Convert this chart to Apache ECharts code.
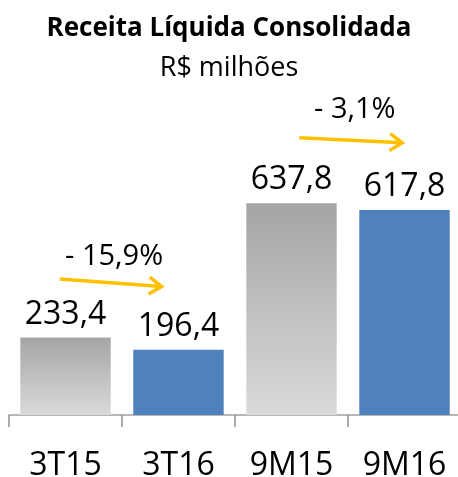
<!DOCTYPE html>
<html>
<head>
<meta charset="utf-8">
<script src="https://cdn.jsdelivr.net/npm/echarts@6/dist/echarts.min.js"></script>
<style>
  html, body { margin: 0; padding: 0; background: #fff; }
  #chart { width: 458px; height: 477px; }
</style>
</head>
<body>
<div id="chart"></div>
<script>
const categories = ['3T15', '3T16', '9M15', '9M16'];
const values = [233.4, 196.4, 637.8, 617.8];
const isCurrent = [false, true, false, true];

// variação: início e fim da seta, posição do texto (em unidades dos eixos)
const arrows = [
    { from: [-0.05, 410], to: [0.85, 387], text: '- 15,9%', textAt: [0.43, 476] },
    { from: [2.07, 835], to: [2.98, 820], text: '- 3,1%', textAt: [2.56, 918] }
];

const font = '"Open Sans", "Noto Sans", sans-serif';
const orange = '#FFC000';

const grayGradient = new echarts.graphic.LinearGradient(0, 0, 0, 1, [
    { offset: 0, color: '#a5a5a5' },
    { offset: 1, color: '#dadada' }
]);

const barData = values.map((v, i) => ({
    value: v,
    itemStyle: { color: isCurrent[i] ? '#4f81bd' : grayGradient }
}));

const chart = echarts.init(document.getElementById('chart'));

chart.setOption({
    animation: false,
    title: {
        text: 'Receita Líquida Consolidada',
        subtext: 'R$ milhões',
        left: 'center',
        top: 11,
        itemGap: 13,
        textStyle: { fontFamily: font, fontWeight: 'bold', fontSize: 26, color: '#000' },
        subtextStyle: { fontFamily: font, fontSize: 27, color: '#000' }
    },
    grid: { left: 9, width: 452, top: 83, bottom: 62, outerBoundsMode: 'none', containLabel: false },
    xAxis: [{
        type: 'category',
        data: categories,
        axisLine: { lineStyle: { color: '#a0a0a0', width: 1.5 } },
        axisTick: { show: true, interval: 0, length: 12, lineStyle: { color: '#909090', width: 1.5 } },
        axisLabel: { fontFamily: font, fontSize: 32, color: '#000', margin: 35 }
    }, {
        type: 'value',
        min: -0.5,
        max: 3.5,
        show: false
    }],
    yAxis: {
        type: 'value',
        min: 0,
        max: 1000,
        show: false
    },
    series: [{
        type: 'bar',
        data: barData,
        barWidth: '80%',
        label: {
            show: true,
            position: 'top',
            distance: 7,
            fontFamily: font,
            fontSize: 32,
            color: '#000',
            formatter: p => p.value.toFixed(1).replace('.', ',')
        }
    }, {
        type: 'custom',
        xAxisIndex: 1,
        data: arrows.map((a, i) => [i]),
        renderItem: function (params, api) {
            const a = arrows[params.dataIndex];
            const p1 = api.coord(a.from);
            const p2 = api.coord(a.to);
            const pt = api.coord(a.textAt);
            const ang = Math.atan2(p2[1] - p1[1], p2[0] - p1[0]);
            const head = 15, spread = 0.6;
            const h1 = [p2[0] - head * Math.cos(ang - spread), p2[1] - head * Math.sin(ang - spread)];
            const h2 = [p2[0] - head * Math.cos(ang + spread), p2[1] - head * Math.sin(ang + spread)];
            return {
                type: 'group',
                children: [{
                    type: 'line',
                    shape: { x1: p1[0], y1: p1[1], x2: p2[0], y2: p2[1] },
                    style: { stroke: orange, lineWidth: 3.5 }
                }, {
                    type: 'polyline',
                    shape: { points: [h1, p2, h2] },
                    style: { stroke: orange, lineWidth: 3.5, fill: null }
                }, {
                    type: 'text',
                    x: pt[0],
                    y: pt[1],
                    style: {
                        text: a.text,
                        fontFamily: font,
                        fontSize: 29,
                        fill: '#000',
                        align: 'center',
                        verticalAlign: 'middle'
                    }
                }]
            };
        }
    }]
});
</script>
</body>
</html>
